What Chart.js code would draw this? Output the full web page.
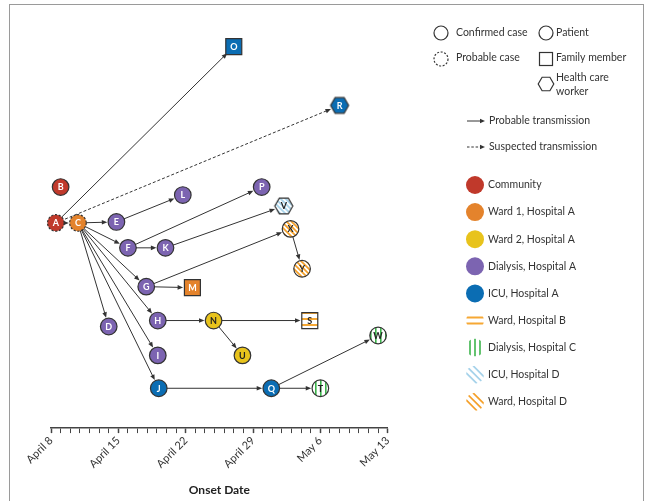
<!DOCTYPE html>
<html><head><meta charset="utf-8">
<script src="https://cdn.jsdelivr.net/npm/chart.js@4"></script>
<style>
html,body{margin:0;padding:0;background:#fff;}
#wrap{position:relative;width:648px;height:501px;overflow:hidden;}
#frame{position:absolute;left:9px;top:4px;width:635px;height:530px;border:1.5px solid #9a9a9a;box-sizing:border-box;}
canvas{position:absolute;left:0;top:0;}
</style></head><body>
<div id="wrap"><div id="frame"></div><canvas id="c" width="648" height="501"></canvas></div>
<script>
// ---- data ----
const caseIds    = ['A','B','C','D','E','F','G','H','I','J','K','L','M','N','O','P','Q','R','S','T','U','V','W','X','Y'];
const onsetDay   = [0.5,1.0,2.8,6.0,6.8,8.0,9.9,11.1,11.1,11.2,11.9,13.7,14.7,16.9,19.0,21.9,22.9,30.0,26.9,28.0,19.9,24.2,34.0,24.9,26.1];
const lane       = [20.6,24.2,20.6,10.2,20.7,18.1,14.2,10.8,7.3,4.0,18.1,23.4,14.1,10.8,38.3,24.2,4.0,32.4,10.8,4.0,7.3,22.3,9.3,20.0,16.0];
const caseSetting= [0,0,1,3,3,3,3,3,3,4,3,3,1,2,4,3,4,4,5,6,2,7,6,8,8];
const caseRole   = ['P','P','P','P','P','P','P','P','P','P','P','P','F','P','F','P','P','H','F','P','P','H','P','P','P'];
const caseStatus = ['Probable','Confirmed','Probable','Confirmed','Confirmed','Confirmed','Confirmed','Confirmed','Confirmed','Confirmed','Confirmed','Confirmed','Confirmed','Confirmed','Confirmed','Confirmed','Confirmed','Confirmed','Confirmed','Confirmed','Confirmed','Confirmed','Confirmed','Confirmed','Confirmed'];

const edgeFrom = ['A','A','A','C','C','C','C','C','C','C','E','F','F','K','G','G','H','N','N','J','Q','Q','X'];
const edgeTo   = ['C','O','R','E','F','G','H','I','J','D','L','K','P','V','M','X','N','S','U','Q','T','W','Y'];
const edgeKind = ['probable','probable','suspected','probable','probable','probable','probable','probable','probable','probable','probable','probable','probable','probable','probable','probable','probable','probable','probable','probable','probable','probable','probable'];

const settingLabels = ['Community','Ward 1, Hospital A','Ward 2, Hospital A','Dialysis, Hospital A','ICU, Hospital A','Ward, Hospital B','Dialysis, Hospital C','ICU, Hospital D','Ward, Hospital D'];
const settingColors = ['#c0392b','#e4832c','#e8c31c','#7c64b1','#0b6db3','#f6a834','#3db44c','#a5d2ea','#f5a02a'];
const settingFill   = ['solid','solid','solid','solid','solid','h','v','d','d'];

const tickDay    = [0,7,14,21,28,35];
const tickLabels = ['April 8','April 15','April 22','April 29','May 6','May 13'];

// ---- helpers ----
const FONT = 'Lato, "Open Sans", sans-serif';
const canvas = document.getElementById('c');
const mainCtx = canvas.getContext('2d');

function stripeTile(color, dir){
  const t = document.createElement('canvas');
  const s = dir==='h' ? 6 : 5;
  t.width = s; t.height = s;
  const g = t.getContext('2d');
  g.fillStyle = '#fff'; g.fillRect(0,0,s,s);
  g.fillStyle = color; g.strokeStyle = color;
  if (dir==='h') { g.fillRect(0,0,s,2); }
  else if (dir==='v') { g.fillRect(0,0,1.6,s); }
  else {
    g.lineWidth = 1.7;
    g.beginPath();
    g.moveTo(-1,-1); g.lineTo(s+1,s+1);
    g.moveTo(-1,s-1); g.lineTo(1,s+1);
    g.moveTo(s-1,-1); g.lineTo(s+1,1);
    g.stroke();
  }
  return t;
}
function fillFor(settingIdx, g){
  const kind = settingFill[settingIdx];
  if (kind==='solid') return settingColors[settingIdx];
  return g.createPattern(stripeTile(settingColors[settingIdx], kind), 'repeat');
}
function hexPath(g, cx, cy, r){
  g.beginPath();
  for (let k=0;k<6;k++){
    const a = Math.PI/3*k;
    const px = cx + r*Math.cos(a), py = cy + r*Math.sin(a);
    if (k===0) g.moveTo(px,py); else g.lineTo(px,py);
  }
  g.closePath();
}
function hexImage(settingIdx){
  const t = document.createElement('canvas');
  t.width = 22; t.height = 20;
  const g = t.getContext('2d');
  hexPath(g, 11, 10, 9);
  g.fillStyle = fillFor(settingIdx, g);
  g.fill();
  g.lineWidth = 1.2; g.strokeStyle = '#333'; g.stroke();
  return t;
}

const pointStyles = caseIds.map((id,i)=> caseRole[i]==='H' ? hexImage(caseSetting[i]) : (caseRole[i]==='F' ? 'rect' : 'circle'));
const pointRadii  = caseIds.map((id,i)=> caseRole[i]==='F' ? 11.3 : (caseRole[i]==='H' ? 9 : 8.3));
const pointFills  = caseIds.map((id,i)=> fillFor(caseSetting[i], mainCtx));
const pointBorderW= caseIds.map((id,i)=> caseStatus[i]==='Probable' ? 0 : 1.2);

function nodeRadius(i){ return caseRole[i]==='F' ? 8.5 : (caseRole[i]==='H' ? 8.5 : 8.3); }

// ---- plugins ----
const edgesPlugin = {
  id: 'edges',
  beforeDatasetsDraw(chart){
    const g = chart.ctx, xs = chart.scales.x, ys = chart.scales.y;
    g.save();
    g.strokeStyle = '#333'; g.fillStyle = '#333'; g.lineWidth = 1;
    edgeFrom.forEach((f,k)=>{
      const a = caseIds.indexOf(f), b = caseIds.indexOf(edgeTo[k]);
      const x0 = xs.getPixelForValue(onsetDay[a]), y0 = ys.getPixelForValue(lane[a]);
      const x1 = xs.getPixelForValue(onsetDay[b]), y1 = ys.getPixelForValue(lane[b]);
      const dx = x1-x0, dy = y1-y0, len = Math.hypot(dx,dy);
      const ux = dx/len, uy = dy/len;
      const tx = x1 - ux*(nodeRadius(b)+0.8), ty = y1 - uy*(nodeRadius(b)+0.8);
      const L = 5.5, W = 2.3;
      const bx = tx - ux*L, by = ty - uy*L;
      g.setLineDash(edgeKind[k]==='suspected' ? [3,2] : []);
      g.beginPath();
      g.moveTo(x0 + ux*nodeRadius(a)*0.6, y0 + uy*nodeRadius(a)*0.6);
      g.lineTo(bx + ux*1, by + uy*1);
      g.stroke();
      g.setLineDash([]);
      g.beginPath();
      g.moveTo(tx,ty);
      g.lineTo(bx - uy*W, by + ux*W);
      g.lineTo(bx + uy*W, by - ux*W);
      g.closePath(); g.fill();
    });
    g.restore();
  }
};

const labelsPlugin = {
  id: 'nodeLabels',
  afterDatasetsDraw(chart){
    const g = chart.ctx, meta = chart.getDatasetMeta(0);
    g.save();
    meta.data.forEach((el,i)=>{
      if (caseStatus[i]==='Probable'){
        g.setLineDash([2.2,1.6]);
        g.lineWidth = 1.2; g.strokeStyle = '#333';
        g.beginPath(); g.arc(el.x, el.y, 8.3, 0, Math.PI*2); g.stroke();
        g.setLineDash([]);
      }
      const s = caseSetting[i];
      g.fillStyle = (s===2 || settingFill[s]!=='solid') ? '#222' : '#fff';
      g.font = 'bold 9px ' + FONT;
      g.textAlign = 'center'; g.textBaseline = 'middle';
      g.fillText(caseIds[i], el.x, el.y + 0.5);
    });
    g.restore();
  }
};

const legendPlugin = {
  id: 'customLegend',
  afterDraw(chart){
    const g = chart.ctx;
    g.save();
    g.fillStyle = '#333'; g.strokeStyle = '#333';
    g.font = '10.5px ' + FONT; g.textBaseline = 'middle'; g.textAlign = 'left';
    g.lineWidth = 1.2;
    // shapes / status
    g.beginPath(); g.arc(441, 33, 7, 0, Math.PI*2); g.stroke();
    g.fillText('Confirmed case', 456, 33);
    g.beginPath(); g.arc(546, 33, 7, 0, Math.PI*2); g.stroke();
    g.fillText('Patient', 556, 33);
    g.setLineDash([2,1.6]);
    g.beginPath(); g.arc(441, 59, 7, 0, Math.PI*2); g.stroke();
    g.setLineDash([]);
    g.fillText('Probable case', 456, 58);
    g.strokeRect(539.5, 52.5, 13, 13);
    g.fillText('Family member', 556, 58);
    hexPath(g, 546, 84, 7.8); g.stroke();
    g.fillText('Health care', 556, 78);
    g.fillText('worker', 556, 92);
    // transmission
    [[121,false,'Probable transmission'],[147,true,'Suspected transmission']].forEach(([y,d,t])=>{
      g.lineWidth = 1;
      g.setLineDash(d ? [2.5,1.8] : []);
      g.beginPath(); g.moveTo(467, y); g.lineTo(481, y); g.stroke();
      g.setLineDash([]);
      g.beginPath(); g.moveTo(485, y); g.lineTo(480, y-2.2); g.lineTo(480, y+2.2); g.closePath(); g.fill();
      g.fillText(t, 489, y);
    });
    // settings
    settingLabels.forEach((lab,i)=>{
      const cx = 475, cy = 185 + i*27.1, r = 9;
      const kind = settingFill[i], col = settingColors[i];
      if (kind==='solid'){
        g.fillStyle = col; g.beginPath(); g.arc(cx,cy,r,0,Math.PI*2); g.fill();
      } else {
        g.save();
        g.beginPath(); g.arc(cx,cy,r,0,Math.PI*2); g.clip();
        g.strokeStyle = col;
        if (kind==='h'){
          g.lineWidth = 2;
          [-3,3].forEach(o=>{ g.beginPath(); g.moveTo(cx-r,cy+o); g.lineTo(cx+r,cy+o); g.stroke(); });
        } else if (kind==='v'){
          g.lineWidth = 1.6;
          [-5,0,5].forEach(o=>{ g.beginPath(); g.moveTo(cx+o,cy-r); g.lineTo(cx+o,cy+r); g.stroke(); });
        } else {
          g.lineWidth = 1.7;
          [-7,0,7].forEach(o=>{ g.beginPath(); g.moveTo(cx-r+o,cy-r); g.lineTo(cx+r+o,cy+r); g.stroke(); });
        }
        g.restore();
      }
      g.fillStyle = '#333';
      g.fillText(lab, 488, cy);
    });
    g.restore();
  }
};

new Chart(canvas, {
  type: 'scatter',
  data: {
    datasets: [{
      data: caseIds.map((id,i)=>({x: onsetDay[i], y: lane[i]})),
      pointStyle: pointStyles,
      pointRadius: pointRadii,
      backgroundColor: pointFills,
      borderColor: '#333',
      borderWidth: pointBorderW,
      clip: false
    }]
  },
  options: {
    responsive: false,
    animation: false,
    events: [],
    layout: { padding: { left: 51, right: 260.3, top: 29.7, bottom: 0 } },
    plugins: { legend: { display: false }, tooltip: { enabled: false } },
    scales: {
      x: {
        type: 'linear', position: 'bottom', min: 0, max: 35,
        ticks: {
          stepSize: 1, autoSkip: false, maxRotation: 45, minRotation: 45,
          padding: 1, color: '#333', font: { size: 11, family: FONT },
          callback: (v) => { const k = tickDay.indexOf(Math.round(v)); return (k>=0 && Math.abs(v-Math.round(v))<1e-6) ? tickLabels[k] : ''; }
        },
        grid: {
          drawOnChartArea: false, drawTicks: true, tickLength: 5,
          tickColor: '#444',
          tickWidth: (c) => (c.tick && Math.round(c.tick.value) % 7 === 0) ? 1.5 : 1
        },
        border: { display: true, color: '#444', width: 1.5 },
        title: { display: true, text: 'Onset Date', color: '#222', font: { size: 12, weight: 'bold', family: FONT }, padding: { top: 11, bottom: 4 } }
      },
      y: { display: false, min: 0, max: 40 }
    }
  },
  plugins: [edgesPlugin, labelsPlugin, legendPlugin]
});
</script>
</body></html>
